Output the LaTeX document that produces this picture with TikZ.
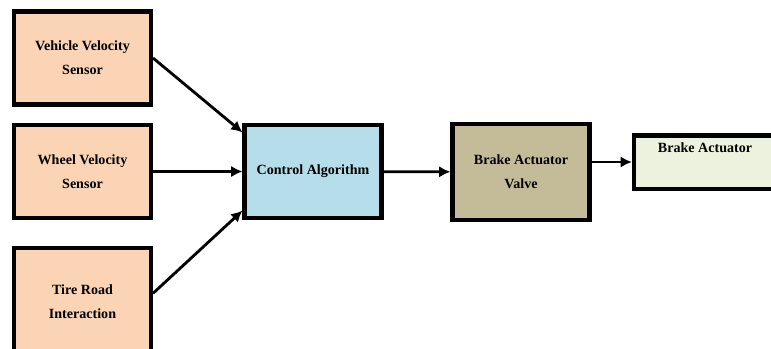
\documentclass[tikz,border=0pt]{standalone}
\usepackage{fontspec}
\setmainfont{Liberation Serif}
\usetikzlibrary{arrows.meta,positioning,calc}

\definecolor{sensorfill}{RGB}{250,212,180}
\definecolor{ctrlfill}{RGB}{182,221,234}
\definecolor{valvefill}{RGB}{196,188,153}
\definecolor{actfill}{RGB}{236,242,222}

\begin{document}
\begin{tikzpicture}[
    x=0.025cm, y=-0.025cm,
    font=\bfseries\normalsize,
    block/.style={draw=black, line width=3pt, align=center, minimum width=3.42cm, minimum height=2.32cm},
    arrow/.style={-{Latex[length=8pt,width=8pt]}, line width=2pt, draw=black}
]
\useasboundingbox (0,0) rectangle (771,349);

\node[block, fill=sensorfill] (vehicle) at (82.5,58) {Vehicle Velocity\\[5pt]Sensor};
\node[block, fill=sensorfill] (wheel) at (82.5,171.5) {Wheel Velocity\\[5pt]Sensor};
\node[block, fill=sensorfill, minimum height=2.7cm] (tire) at (82.5,302) {Tire Road\\[5pt]Interaction};

\node[block, fill=ctrlfill] (control) at (313,171.5) {Control Algorithm};
\node[block, fill=valvefill, minimum height=2.4cm] (valve) at (521,172) {Brake Actuator\\[5pt]Valve};
\node[block, fill=actfill, minimum width=3.55cm, minimum height=1.33cm] (actuator) at (705,162) {Brake Actuator\\[8pt]};

\draw[arrow] (vehicle.east) -- (control.151);
\draw[arrow] (wheel) -- (control);
\draw[arrow] (tire.7) -- (control.209);
\draw[arrow] (control) -- (valve);
\draw[arrow] (valve.east |- actuator.west) -- (actuator.west);
\end{tikzpicture}
\end{document}
